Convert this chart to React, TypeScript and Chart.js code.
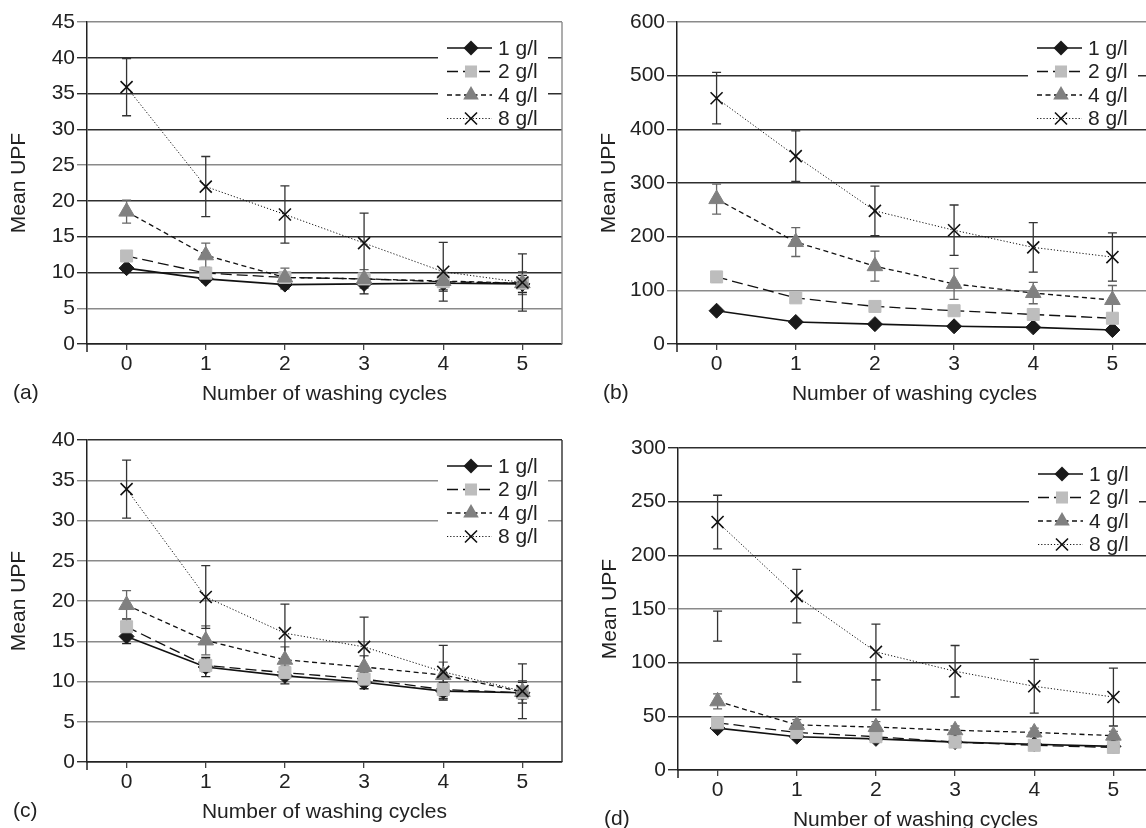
import React, { useEffect, useRef } from 'react';
import { Chart, registerables } from 'chart.js';
Chart.register(...registerables);

const cycles = ['0', '1', '2', '3', '4', '5'];
const seriesNames = ['1 g/l', '2 g/l', '4 g/l', '8 g/l'];

// Panel (a)
const a1 = [10.6, 9.1, 8.3, 8.4, 8.5, 8.4];
const a2 = [12.3, 9.9, 9.3, 9.1, 8.7, 8.5];
const a4 = [18.5, 12.4, 9.3, 9.1, 8.8, 8.5];
const a8 = [35.9, 22.0, 18.1, 14.1, 10.1, 8.6];
const aErr1 = [0.4, 0.5, 0.6, 1.4, 1.1, 1.2];
const aErr2 = [0.4, 0.6, 0.5, 0.6, 0.5, 0.5];
const aErr4 = [1.6, 1.7, 1.3, 1.3, 1.2, 1.6];
const aErr8 = [4.0, 4.2, 4.0, 4.2, 4.1, 4.0];

// Panel (b)
const b1 = [62, 41, 37, 33, 31, 26];
const b2 = [125, 86, 70, 62, 55, 48];
const b4 = [270, 190, 145, 112, 95, 82];
const b8 = [458, 350, 248, 212, 180, 162];
const bErr1 = [5, 4, 4, 4, 4, 4];
const bErr2 = [10, 8, 8, 8, 7, 7];
const bErr4 = [28, 27, 28, 29, 20, 27];
const bErr8 = [48, 47, 46, 47, 46, 45];

// Panel (c)
const c1 = [15.6, 11.8, 10.7, 9.9, 8.8, 8.6];
const c2 = [16.8, 12.0, 11.1, 10.3, 9.0, 8.6];
const c4 = [19.5, 15.1, 12.7, 11.8, 10.8, 8.7];
const c8 = [33.9, 20.5, 16.0, 14.3, 11.2, 8.8];
const cErr1 = [0.9, 1.2, 1.0, 0.8, 1.1, 1.3];
const cErr2 = [1.0, 0.8, 0.8, 0.8, 0.8, 0.8];
const cErr4 = [1.8, 1.8, 1.6, 1.4, 1.6, 1.4];
const cErr8 = [3.6, 3.9, 3.6, 3.7, 3.3, 3.4];

// Panel (d)
const d1 = [39, 31, 29, 26, 24, 22];
const d2 = [44, 35, 31, 26, 23, 21];
const d4 = [64, 42, 40, 37, 35, 32];
const d8 = [231, 162, 110, 92, 78, 68];
const dErr1 = [2, 2, 2, 2, 2, 2];
const dErr2 = [3, 3, 3, 2, 2, 2];
const dErr4 = [7, 5, 5, 4, 4, 4];
const dErr8 = [25, 25, 26, 24, 25, 27];
const dExtraLow = [120, 82, 56, null, null, null];
const dExtraHigh = [148, 108, 84, null, null, null];

const FONT = '"Liberation Sans", Arial, Helvetica, sans-serif';
const TEXT = '#222';
const DARK = '#2e2e2e';
const GRAY = '#8a8a8a';

const styles = [
  { shape: 'rectRot', radius: 7.5, fill: '#1a1a1a', dash: [], lw: 1.6, err: '#222' },
  { shape: 'rect', radius: 8.5, fill: '#bdbdbd', dash: [11, 5], lw: 1.3, err: '#555' },
  { shape: 'triangle', radius: 9, fill: '#808080', dash: [5, 3.5], lw: 1.3, err: '#666' },
  { shape: 'crossRot', radius: 8.5, fill: '#111', dash: [1.2, 2], lw: 1, err: '#333' },
];

function drawMarker(ctx, shape, x, y, r, fill) {
  ctx.save();
  ctx.setLineDash([]);
  ctx.fillStyle = fill;
  ctx.strokeStyle = fill;
  ctx.beginPath();
  if (shape === 'rectRot') {
    ctx.moveTo(x, y - r); ctx.lineTo(x + r, y); ctx.lineTo(x, y + r); ctx.lineTo(x - r, y); ctx.closePath(); ctx.fill();
  } else if (shape === 'rect') {
    const s = r * Math.SQRT1_2;
    ctx.fillRect(x - s, y - s, 2 * s, 2 * s);
  } else if (shape === 'triangle') {
    ctx.moveTo(x, y - r);
    ctx.lineTo(x + r * Math.sin(Math.PI / 3), y + r / 2);
    ctx.lineTo(x - r * Math.sin(Math.PI / 3), y + r / 2);
    ctx.closePath(); ctx.fill();
  } else {
    const s = r * Math.SQRT1_2;
    ctx.lineWidth = 1.6;
    ctx.moveTo(x - s, y - s); ctx.lineTo(x + s, y + s);
    ctx.moveTo(x + s, y - s); ctx.lineTo(x - s, y + s);
    ctx.stroke();
  }
  ctx.restore();
}

type PanelProps = {
  left: number; top: number; label: string; yMax: number; yStep: number;
  values: number[][]; errors: number[][]; grayTicks: number[]; rightColor: string;
  extraLow?: (number | null)[]; extraHigh?: (number | null)[];
};

function Panel(p: PanelProps) {
  const ref = useRef<HTMLCanvasElement | null>(null);
  useEffect(() => {
    const canvas = ref.current;
    if (!canvas) return;
    const decor = {
      id: 'decor',
      beforeDatasetsDraw(chart) {
        const ctx = chart.ctx;
        const xs = chart.scales.x, ys = chart.scales.y;
        ctx.save();
        ctx.setLineDash([]);
        ctx.lineWidth = 1.3;
        const bar = (x, v1, v2, color) => {
          const y1 = ys.getPixelForValue(v1), y2 = ys.getPixelForValue(v2);
          ctx.strokeStyle = color;
          ctx.beginPath();
          ctx.moveTo(x, y1); ctx.lineTo(x, y2);
          ctx.moveTo(x - 4.5, y1); ctx.lineTo(x + 4.5, y1);
          ctx.moveTo(x - 4.5, y2); ctx.lineTo(x + 4.5, y2);
          ctx.stroke();
        };
        p.values.forEach((vals, i) => {
          vals.forEach((v, j) => {
            const e = p.errors[i][j];
            bar(xs.getPixelForValue(j), v + e, v - e, styles[i].err);
          });
        });
        if (p.extraLow && p.extraHigh) {
          p.extraLow.forEach((lo, j) => {
            const hi = p.extraHigh![j];
            if (lo != null && hi != null) bar(xs.getPixelForValue(j), hi, lo, '#333');
          });
        }
        ctx.restore();
      },
      afterDatasetsDraw(chart) {
        const ctx = chart.ctx;
        const { left, right, top, bottom } = chart.chartArea;
        ctx.save();
        ctx.setLineDash([]);
        ctx.strokeStyle = p.rightColor;
        ctx.lineWidth = 1.4;
        ctx.beginPath(); ctx.moveTo(right, top); ctx.lineTo(right, bottom); ctx.stroke();
        ctx.strokeStyle = '#222';
        ctx.lineWidth = 1.5;
        ctx.beginPath(); ctx.moveTo(left, bottom); ctx.lineTo(left, bottom + 8); ctx.stroke();
        ctx.fillStyle = '#fff';
        ctx.fillRect(left + 351, top + 14, 110, 93);
        ctx.font = '21px ' + FONT;
        ctx.textBaseline = 'middle';
        ctx.textAlign = 'left';
        seriesNames.forEach((name, i) => {
          const st = styles[i];
          const y = top + 26 + 23.5 * i;
          ctx.strokeStyle = '#111';
          ctx.lineWidth = st.lw;
          ctx.setLineDash(st.dash);
          ctx.beginPath(); ctx.moveTo(left + 360, y); ctx.lineTo(left + 405, y); ctx.stroke();
          ctx.setLineDash([]);
          drawMarker(ctx, st.shape, left + 384, y, st.radius, st.fill);
          ctx.fillStyle = TEXT;
          ctx.fillText(name, left + 411, y + 1);
        });
        ctx.fillStyle = TEXT;
        ctx.fillText(p.label, 13, 393);
        ctx.restore();
      },
    };
    const chart = new Chart(canvas, {
      type: 'line',
      data: {
        labels: cycles,
        datasets: p.values.map((v, i) => ({
          label: seriesNames[i],
          data: v,
          borderColor: '#111',
          borderWidth: styles[i].lw,
          borderDash: styles[i].dash,
          pointStyle: styles[i].shape,
          pointRadius: styles[i].radius,
          pointBackgroundColor: styles[i].fill,
          pointBorderColor: styles[i].fill,
          pointBorderWidth: i === 3 ? 1.6 : 1,
          tension: 0,
          fill: false,
          clip: false,
          order: 4 - i,
        })),
      },
      options: {
        responsive: false,
        animation: false,
        events: [],
        layout: { padding: { left: 0, top: 22, right: 11, bottom: 0 } },
        plugins: { legend: { display: false }, tooltip: { enabled: false } },
        scales: {
          x: {
            type: 'category',
            offset: true,
            grid: { display: true, drawOnChartArea: false, drawTicks: true, tickLength: 6, offset: false, color: '#444', lineWidth: 1.3 },
            border: { display: true, color: '#222', width: 1.5 },
            ticks: { color: TEXT, font: { family: FONT, size: 21 }, padding: 2, maxRotation: 0 },
            title: { display: true, text: 'Number of washing cycles', color: TEXT, font: { family: FONT, size: 21 }, padding: { top: 0, bottom: 7 } },
            afterFit: (s) => { s.height = 70; },
          },
          y: {
            min: 0,
            max: p.yMax,
            ticks: { stepSize: p.yStep, color: TEXT, font: { family: FONT, size: 21 }, padding: 2 },
            grid: {
              color: (c) => (p.grayTicks.includes(c.tick ? c.tick.value : -1) ? GRAY : DARK),
              lineWidth: 1.4,
              tickLength: 10,
            },
            border: { display: true, color: '#222', width: 1.5 },
            title: { display: true, text: 'Mean UPF', color: TEXT, font: { family: FONT, size: 21 }, padding: { top: 7, bottom: 0 } },
            afterFit: (s) => { s.width = 87; },
          },
        },
      },
      plugins: [decor],
    });
    return () => chart.destroy();
  }, []);
  return (
    <canvas
      ref={ref}
      width={573}
      height={414}
      style={{ position: 'absolute', left: p.left, top: p.top, width: 573, height: 414 }}
    />
  );
}

export default function App() {
  return (
    <div style={{ position: 'absolute', left: 0, top: 0, width: 1146, height: 828, overflow: 'hidden', background: '#fff' }}>
      <Panel left={0} top={0} label="(a)" yMax={45} yStep={5}
        values={[a1, a2, a4, a8]} errors={[aErr1, aErr2, aErr4, aErr8]}
        grayTicks={[45, 25, 5]} rightColor={GRAY} />
      <Panel left={590} top={0} label="(b)" yMax={600} yStep={100}
        values={[b1, b2, b4, b8]} errors={[bErr1, bErr2, bErr4, bErr8]}
        grayTicks={[600, 100]} rightColor={GRAY} />
      <Panel left={0} top={418} label="(c)" yMax={40} yStep={5}
        values={[c1, c2, c4, c8]} errors={[cErr1, cErr2, cErr4, cErr8]}
        grayTicks={[35, 30, 25, 20, 15, 10, 5]} rightColor={DARK} />
      <Panel left={591} top={426} label="(d)" yMax={300} yStep={50}
        values={[d1, d2, d4, d8]} errors={[dErr1, dErr2, dErr4, dErr8]}
        grayTicks={[150]} rightColor={DARK}
        extraLow={dExtraLow} extraHigh={dExtraHigh} />
    </div>
  );
}
